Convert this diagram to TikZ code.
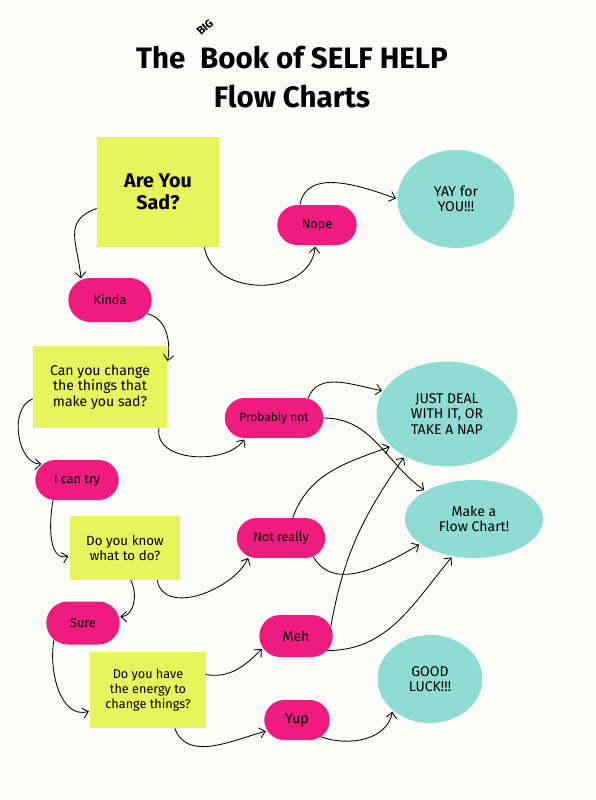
\documentclass[tikz,border=0pt]{standalone}
\usepackage{fontspec}
\setmainfont{Fira Sans}
\usetikzlibrary{shapes.geometric,shapes.misc,arrows.meta}
\definecolor{paper}{HTML}{FBFBF9}
\definecolor{sticky}{HTML}{E7F45B}
\definecolor{answerpink}{HTML}{EE1C7E}
\definecolor{outcometeal}{HTML}{8FDCD2}
\tikzset{
  question/.style={rectangle, fill=sticky, align=center, inner sep=2pt, font=\fontsize{9.5}{10.5}\selectfont},
  answer/.style={rounded rectangle, fill=answerpink, align=center, inner sep=2pt, minimum height=10mm, font=\fontsize{9}{10}\selectfont},
  outcome/.style={ellipse, fill=outcometeal, align=center, inner sep=0pt, font=\fontsize{10}{11}\selectfont},
  titletext/.style={align=center, font=\fontsize{21}{27.5}\selectfont\bfseries},
  arrow/.style={-{Straight Barb[length=1.4mm,width=2.6mm]}, line width=0.6pt, shorten >=1pt}
}
\newcommand{\bigword}{\rlap{\hspace{-0.15em}\raisebox{2.1ex}{\rotatebox{40}{\fontsize{8}{8}\selectfont BIG}}}}

\begin{document}
\begin{tikzpicture}[x=0.25mm, y=0.25mm]
  \fill[paper] (0,0) rectangle (596,-800);

  % title
  \node[titletext] (title) at (292,-63) {The\hspace{0.5em}\bigword Book of SELF HELP\\ Flow Charts};

  % questions
  \node[question, minimum width=30.5mm, minimum height=27.5mm, font=\fontsize{14}{16}\selectfont\bfseries] (sad) at (158,-192) {Are You\\ Sad?};
  \node[question, minimum width=33.5mm, minimum height=20.5mm, font=\fontsize{10}{11}\selectfont] (change) at (100,-387) {Can you change\\ the things that\\ make you sad?};
  \node[question, minimum width=27.5mm, minimum height=16mm] (know) at (125,-548) {Do you know\\ what to do?};
  \node[question, minimum width=28.75mm, minimum height=19mm, font=\fontsize{9}{10.5}\selectfont] (energy) at (148,-690) {Do you have\\ the energy to\\ change things?};

  % answers
  \node[answer, minimum width=21.25mm] (nope) at (317,-225) {Nope};
  \node[answer, minimum width=22.25mm, minimum height=11mm] (kinda) at (110,-300) {Kinda};
  \node[answer, minimum width=26mm, font=\fontsize{8.5}{10}\selectfont] (probably) at (274,-418) {Probably not};
  \node[answer, minimum width=22.25mm] (cantry) at (77,-480) {I can try};
  \node[answer, minimum width=23.5mm] (notreally) at (281,-538) {Not really};
  \node[answer, minimum width=19.75mm, minimum height=10.75mm] (sure) at (83,-623) {Sure};
  \node[answer, minimum width=19.75mm, minimum height=10.5mm, font=\fontsize{10}{11}\selectfont] (meh) at (296,-636) {Meh};
  \node[answer, minimum width=17.75mm, font=\fontsize{10}{11}\selectfont] (yup) at (297,-720) {Yup};

  % outcomes
  \node[outcome, minimum width=29.25mm, minimum height=24.5mm] (yay) at (456,-199) {YAY for\\ YOU!!!};
  \node[outcome, minimum width=35.25mm, minimum height=26.25mm] (deal) at (447,-414) {JUST DEAL\\ WITH IT, OR\\ TAKE A NAP};
  \node[outcome, minimum width=34.5mm, minimum height=19.5mm] (flowchart) at (474,-519) {Make a\\ Flow Chart!};
  \node[outcome, minimum width=26.25mm, minimum height=22mm] (luck) at (430,-679) {GOOD\\ LUCK!!!};

  % connectors
  \draw[arrow] (sad.195) to[out=200, in=95, looseness=1.3] (kinda.145);
  \draw[arrow] (sad.-50) to[out=-80, in=-95, looseness=1.2] (nope.-95);
  \draw[arrow] (nope.130) to[out=80, in=160] (yay.west);
  \draw[arrow] (kinda.-20) to[out=-15, in=80] (change.20);
  \draw[arrow] (change.190) to[out=200, in=180] (cantry.155);
  \draw[arrow] (change.-35) to[out=-100, in=-125] (probably.215);
  \draw[arrow] (probably.30) to[out=70, in=170] (deal.160);
  \draw[arrow] (probably.east) to[out=0, in=145] (flowchart.150);
  \draw[arrow] (cantry.220) to[out=-100, in=195] (know.188);
  \draw[arrow] (know.-45) to[out=-80, in=-115] (notreally.210);
  \draw[arrow] (know.-80) to[out=-60, in=0] (sure.10);
  \draw[arrow] (notreally.60) to[out=70, in=200] (deal.210);
  \draw[arrow] (notreally.-30) to[out=-60, in=-150] (flowchart.205);
  \draw[arrow] (meh.15) to[out=80, in=-125] (deal.225);
  \draw[arrow] (meh.-25) to[out=0, in=-130] (flowchart.240);
  \draw[arrow] (sure.210) to[out=-100, in=195] (energy.200);
  \draw[arrow] (energy.15) to[out=-10, in=-135] (meh.200);
  \draw[arrow] (energy.-55) to[out=-70, in=-165] (yup.200);
  \draw[arrow] (yup.-35) to[out=-20, in=-100] (luck.220);
\end{tikzpicture}
\end{document}
